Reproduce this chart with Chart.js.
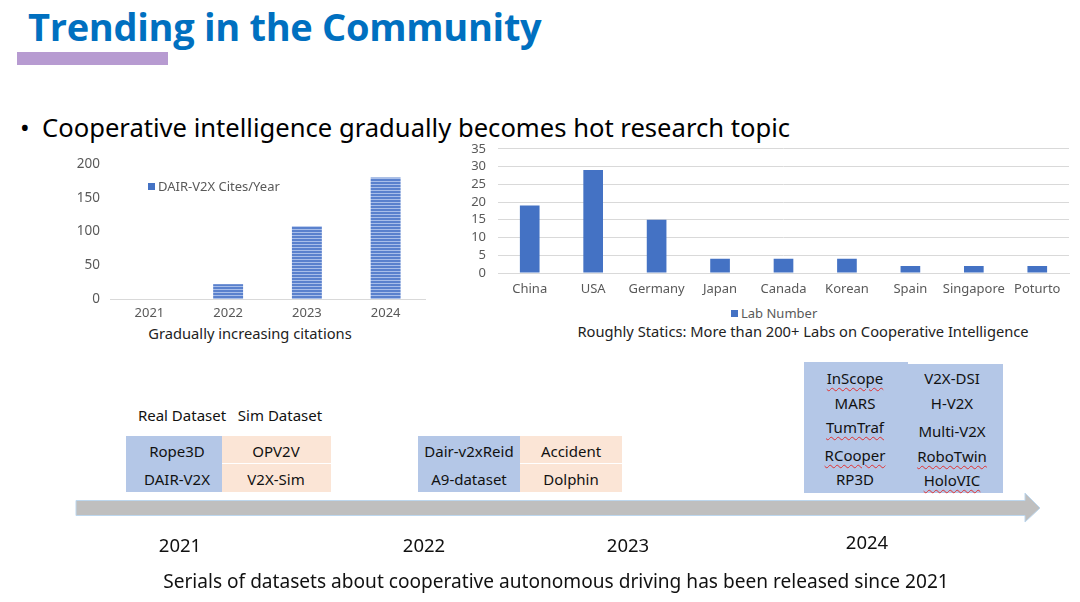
<!DOCTYPE html>
<html><head><meta charset="utf-8">
<script src="https://cdn.jsdelivr.net/npm/chart.js@4.4.1/dist/chart.umd.min.js"></script>
<style>
html,body{margin:0;padding:0;background:#fff;}
body{width:1080px;height:602px;position:relative;overflow:hidden;font-family:"Noto Sans",sans-serif;color:#000;}
.a{position:absolute;white-space:nowrap;}
.c{position:absolute;white-space:nowrap;transform:translate(-50%,-50%);}
.title{left:28px;top:0px;font-family:"Open Sans",sans-serif;font-weight:700;font-size:38px;color:#0070C0;letter-spacing:-0.3px;}
.bar{left:17px;top:52px;width:151px;height:13px;background:#B79BD1;}
.bullet{left:20px;top:110px;font-size:25.6px;color:#000;}
.bullet span{display:inline-block;width:22px;}
.cap{font-size:14.7px;color:#222;}
.leg{font-size:13px;color:#595959;display:flex;align-items:center;}
.leg i{display:inline-block;width:7px;height:7px;background:#4472C4;margin-right:3px;}
.box{position:absolute;}
.blue{background:#B4C7E7;}
.peach{background:#FBE5D6;}
.cell{font-size:15px;color:#111;}
.yr{font-size:18.5px;color:#111;}
.w{text-decoration:underline wavy #e03030;text-decoration-thickness:1px;text-underline-offset:3px;}
canvas{position:absolute;}
</style></head>
<body>
<div class="a title">Trending in the Community</div>
<div class="a bar"></div>
<div class="a bullet"><span>•</span>Cooperative intelligence gradually becomes hot research topic</div>

<canvas id="c1" width="380" height="177" style="left:60px;top:146px;width:380px;height:177px"></canvas>
<canvas id="c2" width="640" height="170" style="left:440px;top:129px;width:640px;height:170px"></canvas>

<div class="a leg" id="leg1" style="left:148px;top:177px;"></div>
<div class="a leg" id="leg2" style="left:731px;top:304px;"></div>
<div class="c cap" style="left:250px;top:333px;">Gradually increasing citations</div>
<div class="c cap" style="left:803px;top:331px;">Roughly Statics: More than 200+ Labs on Cooperative Intelligence</div>

<!-- timeline -->
<div class="c cell" style="left:182px;top:415px;">Real Dataset</div>
<div class="c cell" style="left:280px;top:415px;">Sim Dataset</div>

<div class="box blue" style="left:126px;top:436px;width:96px;height:56px;"></div>
<div class="box peach" style="left:222px;top:436px;width:109px;height:27px;"></div>
<div class="box peach" style="left:222px;top:464px;width:109px;height:28px;"></div>
<div class="c cell" style="left:177px;top:451px;">Rope3D</div>
<div class="c cell" style="left:177px;top:479px;">DAIR-V2X</div>
<div class="c cell" style="left:276px;top:451px;">OPV2V</div>
<div class="c cell" style="left:276px;top:479px;">V2X-Sim</div>

<div class="box blue" style="left:418px;top:436px;width:102px;height:56px;"></div>
<div class="box peach" style="left:520px;top:436px;width:102px;height:27px;"></div>
<div class="box peach" style="left:520px;top:464px;width:102px;height:28px;"></div>
<div class="c cell" style="left:469px;top:451px;">Dair-v2xReid</div>
<div class="c cell" style="left:469px;top:479px;">A9-dataset</div>
<div class="c cell" style="left:571px;top:451px;">Accident</div>
<div class="c cell" style="left:571px;top:479px;">Dolphin</div>

<div class="box blue" style="left:804px;top:362px;width:104px;height:131px;"></div>
<div class="box blue" style="left:907px;top:364px;width:96px;height:129px;"></div>
<div class="c cell w" style="left:855px;top:378px;">InScope</div>
<div class="c cell" style="left:855px;top:403px;">MARS</div>
<div class="c cell w" style="left:855px;top:427px;">TumTraf</div>
<div class="c cell w" style="left:855px;top:455px;">RCooper</div>
<div class="c cell" style="left:855px;top:479px;">RP3D</div>
<div class="c cell" style="left:952px;top:378px;">V2X-DSI</div>
<div class="c cell" style="left:952px;top:403px;">H-V2X</div>
<div class="c cell" style="left:952px;top:431px;">Multi-V2X</div>
<div class="c cell w" style="left:952px;top:456px;">RoboTwin</div>
<div class="c cell w" style="left:952px;top:480px;">HoloVIC</div>

<svg class="a" style="left:0;top:0" width="1080" height="602">
<polygon points="76,500.5 1025,500.5 1025,493 1040,508 1025,522 1025,515.5 76,515.5" fill="#BFBFBF" stroke="#BDD7EE" stroke-width="1"/>
</svg>

<div class="c yr" style="left:180px;top:544px;">2021</div>
<div class="c yr" style="left:424px;top:544px;">2022</div>
<div class="c yr" style="left:628px;top:544px;">2023</div>
<div class="c yr" style="left:867px;top:541px;">2024</div>
<div class="c yr" style="left:556px;top:581px;font-size:19.1px;">Serials of datasets about cooperative autonomous driving has been released since 2021</div>

<script>
// ---- data ----
const citeYears = ['2021', '2022', '2023', '2024'];
const citeValues = [0, 22, 108, 180];
const citeLabel = 'DAIR-V2X Cites/Year';
const citeMax = 200, citeStep = 50;

const countries = ['China', 'USA', 'Germany', 'Japan', 'Canada', 'Korean', 'Spain', 'Singapore', 'Poturto'];
const labCounts = [19, 29, 15, 4, 4, 4, 2, 2, 2];
const labLabel = 'Lab Number';
const labMax = 35, labStep = 5;

// ---- legends ----
document.getElementById('leg1').innerHTML = '<i></i>' + citeLabel;
document.getElementById('leg2').innerHTML = '<i></i>' + labLabel;

function stripePattern() {
  const c = document.createElement('canvas'); c.width = 4; c.height = 3;
  const x = c.getContext('2d');
  x.fillStyle = '#5a81cd'; x.fillRect(0, 0, 4, 3);
  x.fillStyle = '#a8bee9'; x.fillRect(0, 2, 4, 1);
  return x.createPattern(c, 'repeat');
}

const tickFont = {family: 'Noto Sans', size: 13};

new Chart(document.getElementById('c1'), {
  type: 'bar',
  data: {labels: citeYears, datasets: [{label: citeLabel, data: citeValues, backgroundColor: stripePattern(), barPercentage: 0.38, categoryPercentage: 1}]},
  options: {
    responsive: false, animation: false, devicePixelRatio: 1,
    layout: {padding: {left: 0, right: 15, top: 0, bottom: 0}},
    plugins: {legend: {display: false}, tooltip: {enabled: false}},
    scales: {
      x: {grid: {display: false, drawTicks: false}, border: {display: true, color: '#d9d9d9', width: 1},
          ticks: {color: '#595959', font: tickFont, padding: 6}, afterFit: s => { s.height = 24; }},
      y: {min: 0, max: citeMax, ticks: {stepSize: citeStep, autoSkip: false, color: '#595959', font: {family: 'Noto Sans', size: 13.5}, padding: 10},
          grid: {display: false, drawTicks: false}, border: {display: false}, afterFit: s => { s.width = 50; }}
    }
  }
});

new Chart(document.getElementById('c2'), {
  type: 'bar',
  data: {labels: countries, datasets: [{label: labLabel, data: labCounts, backgroundColor: '#4472C4', barPercentage: 0.31, categoryPercentage: 1}]},
  options: {
    responsive: false, animation: false, devicePixelRatio: 1,
    layout: {padding: {left: 0, right: 11, top: 0, bottom: 0}},
    plugins: {legend: {display: false}, tooltip: {enabled: false}},
    scales: {
      x: {grid: {display: false, drawTicks: false}, border: {display: true, color: '#d9d9d9', width: 1},
          ticks: {color: '#595959', font: tickFont, padding: 8, autoSkip: false, maxRotation: 0}, afterFit: s => { s.height = 26; }},
      y: {min: 0, max: labMax, ticks: {stepSize: labStep, autoSkip: false, color: '#595959', font: tickFont, padding: 12},
          grid: {color: '#d9d9d9', drawTicks: false}, border: {display: false}, afterFit: s => { s.width = 58; }}
    }
  }
});
</script>
</body></html>
